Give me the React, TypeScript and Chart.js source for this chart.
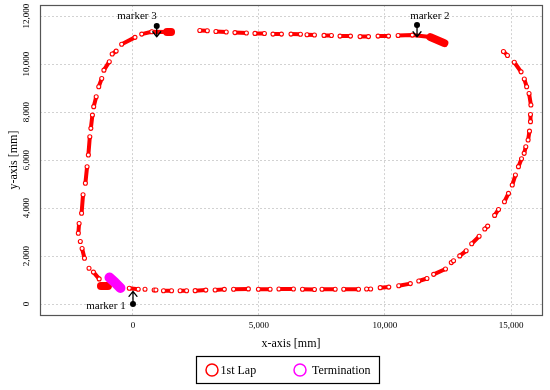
import { useEffect, useRef } from 'react';
import { Chart, registerables } from 'chart.js';

Chart.register(...registerables);

const FONT = '"Liberation Serif", "Times New Roman", Times, serif';

// 1st lap: recorded bursts (dashes), each a list of [x, y] in mm
const lapDashes: number[][][] = [
  // bottom straight, left to right
  [[-147, 654], [208, 615]],
  [[477, 613]],
  [[840, 583], [910, 583]],
  [[1210, 554], [1530, 554]],
  [[1870, 554], [2127, 554]],
  [[2466, 556], [2890, 580]],
  [[3260, 585], [3625, 610]],
  [[3991, 613], [4578, 630]],
  [[4977, 617], [5441, 613]],
  [[5791, 625], [6366, 625]],
  [[6725, 613], [7201, 605]],
  [[7500, 613], [8023, 613]],
  [[8362, 613], [8949, 613]],
  [[9270, 625], [9430, 625]],
  [[9810, 681], [10150, 705]],
  [[10545, 762], [11005, 851]],
  [[11340, 960], [11665, 1063]],
  [[11930, 1237], [12400, 1458]],
  [[12630, 1725], [12720, 1805]],
  [[12965, 2005], [13220, 2217]],
  [[13440, 2511], [13735, 2822]],
  [[13960, 3127], [14075, 3248]],
  [[14350, 3694], [14505, 3942]],
  // right side, going up
  [[14740, 4265], [14900, 4610]],
  [[15050, 4960], [15175, 5375]],
  [[15295, 5725], [15418, 6054]],
  [[15522, 6280], [15587, 6553]],
  [[15678, 6837], [15733, 7205]],
  [[15773, 7600], [15773, 7900]],
  [[15790, 8295], [15716, 8772]],
  [[15621, 9058], [15528, 9376]],
  [[15400, 9675], [15130, 10075]],
  [[14860, 10360], [14700, 10527]],
  // top straight
  [[2650, 11400], [2950, 11390]],
  [[3290, 11360], [3700, 11335]],
  [[4045, 11312], [4500, 11293]],
  [[4840, 11278], [5215, 11272]],
  [[5555, 11250], [5890, 11250]],
  [[6270, 11250], [6645, 11240]],
  [[6905, 11220], [7200, 11210]],
  [[7580, 11196], [7875, 11190]],
  [[8215, 11167], [8630, 11167]],
  [[9010, 11146], [9345, 11146]],
  [[9725, 11167], [10140, 11167]],
  [[10520, 11188], [11084, 11208], [11800, 11125]],
  // top-left corner and left side, going down
  [[346, 11250], [743, 11346], [1351, 11333]],
  [[79, 11113], [-450, 10828]],
  [[-668, 10540], [-826, 10418]],
  [[-940, 10100], [-1154, 9746]],
  [[-1240, 9400], [-1359, 9058]],
  [[-1460, 8636], [-1559, 8226]],
  [[-1610, 7874], [-1672, 7322]],
  [[-1713, 6970], [-1771, 6210]],
  [[-1822, 5720], [-1889, 5030]],
  [[-1982, 4553], [-2040, 3780]],
  [[-2138, 3357], [-2169, 2947]],
  [[-2090, 2605]],
  [[-2020, 2315], [-1925, 1906]],
  [[-1745, 1490]],
  [[-1570, 1330], [-1342, 1047]],
];

// dense clusters of the 1st lap (where the robot stood still)
const lapClusters: number[][][] = [
  [[-1271, 750], [-993, 750]],
  [[11800, 11125], [12356, 10875]],
  [[1351, 11333], [1510, 11333]],
];

// termination run
const terminationPath: number[][] = [
  [-934, 1104],
  [-715, 896],
  [-497, 667],
];

const markerNames = ['marker 1', 'marker 2', 'marker 3'];
const markerX = [0, 11271, 942];
const markerY = [0, 11625, 11583];
const arrowTipY = [530, 11138, 11138];
const markerLabelX = [-1073, 11780, 159];
const markerLabelY = [-83, 12000, 12000];

const xTickValues = [0, 5000, 10000, 15000];
const yTickValues = [0, 2000, 4000, 6000, 8000, 10000, 12000];
const xRange = [-3690, 16230];
const yRange = [-458, 12458];

const legendLabels = ['1st Lap', 'Termination'];
const legendColors = ['#ff0000', '#ff00ff'];

const toPoints = (dashes: number[][][]) =>
  dashes.flatMap((d) => [...d.map(([x, y]) => ({ x, y })), { x: null, y: null }]);

const fmt = (v: number | string) => Number(v).toLocaleString('en-US');

const overlayPlugin = {
  id: 'overlay',
  afterDatasetsDraw(chart: any) {
    const { ctx, scales } = chart;
    const xs = scales.x;
    const ys = scales.y;
    ctx.save();
    ctx.strokeStyle = '#000';
    ctx.lineWidth = 1.3;
    ctx.lineCap = 'round';
    ctx.lineJoin = 'round';
    markerX.forEach((mx, i) => {
      const px = xs.getPixelForValue(mx);
      const p0 = ys.getPixelForValue(markerY[i]);
      const p1 = ys.getPixelForValue(arrowTipY[i]);
      const dir = p1 > p0 ? 1 : -1;
      ctx.beginPath();
      ctx.moveTo(px, p0);
      ctx.lineTo(px, p1);
      ctx.moveTo(px - 4, p1 - dir * 5);
      ctx.lineTo(px, p1);
      ctx.lineTo(px + 4, p1 - dir * 5);
      ctx.stroke();
    });
    ctx.fillStyle = '#000';
    ctx.font = `11px ${FONT}`;
    ctx.textAlign = 'center';
    ctx.textBaseline = 'middle';
    markerNames.forEach((t, i) => {
      ctx.fillText(t, xs.getPixelForValue(markerLabelX[i]), ys.getPixelForValue(markerLabelY[i]));
    });
    ctx.restore();
  },
  afterDraw(chart: any) {
    const { ctx, chartArea: a } = chart;
    ctx.save();
    // plot frame
    ctx.strokeStyle = '#555';
    ctx.lineWidth = 1.2;
    ctx.strokeRect(
      Math.round(a.left) + 0.5,
      Math.round(a.top) + 0.5,
      Math.round(a.right - a.left),
      Math.round(a.bottom - a.top)
    );
    // legend box
    const cx = (a.left + a.right) / 2 - 3.5;
    const top = Math.round(a.bottom) + 41;
    ctx.strokeStyle = '#000';
    ctx.lineWidth = 1.2;
    ctx.strokeRect(Math.round(cx - 91.5) + 0.5, top + 0.5, 183, 27);
    const cy = top + 14;
    const circleX = [cx - 75.5, cx + 12.5];
    const textX = [cx - 67, cx + 24.5];
    ctx.font = `12px ${FONT}`;
    ctx.textAlign = 'left';
    ctx.textBaseline = 'middle';
    legendLabels.forEach((t, i) => {
      ctx.beginPath();
      ctx.arc(circleX[i], cy, 6, 0, Math.PI * 2);
      ctx.strokeStyle = legendColors[i];
      ctx.lineWidth = 1.5;
      ctx.stroke();
      ctx.fillStyle = '#000';
      ctx.fillText(t, textX[i], cy + 0.5);
    });
    ctx.restore();
  },
};

export default function App() {
  const canvasRef = useRef<HTMLCanvasElement | null>(null);

  useEffect(() => {
    const canvas = canvasRef.current;
    if (!canvas) return;
    Chart.defaults.font.family = FONT;
    Chart.defaults.color = '#000';

    const chart = new Chart(canvas, {
      type: 'line',
      data: {
        datasets: [
          {
            label: 'markers',
            data: markerX.map((x, i) => ({ x, y: markerY[i] })),
            showLine: false,
            pointRadius: 3,
            pointBackgroundColor: '#000',
            pointBorderColor: '#000',
            pointBorderWidth: 0,
            order: 0,
          },
          {
            label: legendLabels[1],
            data: terminationPath.map(([x, y]) => ({ x, y })),
            borderColor: legendColors[1],
            borderWidth: 10,
            borderCapStyle: 'round',
            borderJoinStyle: 'round',
            pointRadius: 0,
            order: 1,
          },
          {
            label: 'clusters',
            data: toPoints(lapClusters),
            borderColor: legendColors[0],
            borderWidth: 8,
            borderCapStyle: 'round',
            borderJoinStyle: 'round',
            pointRadius: 0,
            spanGaps: false,
            order: 2,
          },
          {
            label: legendLabels[0],
            data: toPoints(lapDashes),
            borderColor: legendColors[0],
            borderWidth: 4,
            borderCapStyle: 'butt',
            borderJoinStyle: 'round',
            pointRadius: 2,
            pointBorderWidth: 1.1,
            pointBorderColor: legendColors[0],
            pointBackgroundColor: '#ffffff',
            spanGaps: false,
            order: 3,
          },
        ] as any,
      },
      options: {
        responsive: false,
        animation: false,
        events: [],
        layout: { padding: { top: 5, right: 8, bottom: 39, left: 0 } },
        plugins: {
          legend: { display: false },
          tooltip: { enabled: false },
        },
        scales: {
          x: {
            type: 'linear',
            min: xRange[0],
            max: xRange[1],
            afterBuildTicks: (s: any) => {
              s.ticks = xTickValues.map((value) => ({ value }));
            },
            afterFit: (s: any) => {
              s.height = 36;
              s.paddingLeft = 0;
              s.paddingRight = 0;
            },
            grid: { color: '#d2d2d2', lineWidth: 1, drawTicks: false },
            border: { display: false, dash: [2, 2] },
            ticks: { padding: 5, font: { size: 9 }, color: '#000', callback: (v: any) => fmt(v) },
            title: {
              display: true,
              text: 'x-axis [mm]',
              font: { size: 12 },
              color: '#000',
              padding: { top: 6, bottom: 0 },
            },
          },
          y: {
            type: 'linear',
            min: yRange[0],
            max: yRange[1],
            afterBuildTicks: (s: any) => {
              s.ticks = yTickValues.map((value) => ({ value }));
            },
            afterFit: (s: any) => {
              s.width = 40;
              s.paddingTop = 0;
              s.paddingBottom = 0;
            },
            grid: { color: '#d2d2d2', lineWidth: 1, drawTicks: false },
            border: { display: false, dash: [2, 2] },
            ticks: {
              padding: 1,
              minRotation: 90,
              maxRotation: 90,
              crossAlign: 'center',
              font: { size: 9 },
              color: '#000',
              callback: (v: any) => fmt(v),
            },
            title: {
              display: true,
              text: 'y-axis [mm]',
              font: { size: 12 },
              color: '#000',
              padding: { top: 7, bottom: 0 },
            },
          },
        },
      } as any,
      plugins: [overlayPlugin],
    });

    return () => chart.destroy();
  }, []);

  return (
    <div style={{ position: 'absolute', left: 0, top: 0, width: 550, height: 390, background: '#fff' }}>
      <canvas ref={canvasRef} width={550} height={390} style={{ width: 550, height: 390, display: 'block' }} />
    </div>
  );
}
